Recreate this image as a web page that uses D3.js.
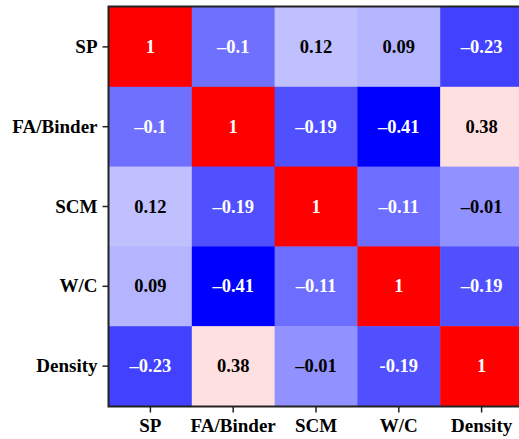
<!DOCTYPE html>
<html>
<head>
<meta charset="utf-8">
<script src="https://cdn.jsdelivr.net/npm/d3@7"></script>
<style>
  html, body { margin: 0; padding: 0; background: #fff; overflow: hidden; }
  svg { display: block; }
</style>
</head>
<body>
<svg id="chart" width="519" height="439"></svg>
<script>
// Variables of the correlation matrix
const variables = ["SP", "FA/Binder", "SCM", "W/C", "Density"];

// Pearson correlation coefficients, one row per variable
const rowSP      = [1, -0.1, 0.12, 0.09, -0.23];
const rowFA      = [-0.1, 1, -0.19, -0.41, 0.38];
const rowSCM     = [0.12, -0.19, 1, -0.11, -0.01];
const rowWC      = [0.09, -0.41, -0.11, 1, -0.19];
const rowDensity = [-0.23, 0.38, -0.01, -0.19, 1];
const matrix = [rowSP, rowFA, rowSCM, rowWC, rowDensity];

// Text shown in each cell
const labelsSP      = ["1", "\u20130.1", "0.12", "0.09", "\u20130.23"];
const labelsFA      = ["\u20130.1", "1", "\u20130.19", "\u20130.41", "0.38"];
const labelsSCM     = ["0.12", "\u20130.19", "1", "\u20130.11", "\u20130.01"];
const labelsWC      = ["0.09", "\u20130.41", "\u20130.11", "1", "\u20130.19"];
const labelsDensity = ["\u20130.23", "0.38", "\u20130.01", "-0.19", "1"];
const cellLabels = [labelsSP, labelsFA, labelsSCM, labelsWC, labelsDensity];

const FONT = "'Liberation Serif', 'Times New Roman', 'DejaVu Serif', serif";

const svg = d3.select("#chart");
const margin = { left: 109, top: 7, right: -4, bottom: 33 };
const W = 519, H = 439;

const x = d3.scaleBand().domain(variables).range([margin.left, W - margin.right]);
const y = d3.scaleBand().domain(variables).range([margin.top, H - margin.bottom]);

// Diverging blue-white-red map, white placed at the centre of the value range
const vmin = -0.41, vmax = 1;
const color = d3.scaleLinear()
  .domain([vmin, (vmin + vmax) / 2, vmax])
  .range(["#0000ff", "#ffffff", "#ff0000"])
  .interpolate(d3.interpolateRgb);

const cells = [];
matrix.forEach((row, i) => row.forEach((v, j) => cells.push({ i, j, v, label: cellLabels[i][j] })));

const g = svg.append("g");
g.selectAll("rect.cell").data(cells).join("rect")
  .attr("class", "cell")
  .attr("x", d => x(variables[d.j]))
  .attr("y", d => y(variables[d.i]))
  .attr("width", x.bandwidth() + 0.5)
  .attr("height", y.bandwidth() + 0.5)
  .attr("fill", d => color(d.v));

// Light cells get dark text, dark cells get white text
g.selectAll("text.val").data(cells).join("text")
  .attr("class", "val")
  .attr("x", d => x(variables[d.j]) + x.bandwidth() / 2)
  .attr("y", d => y(variables[d.i]) + y.bandwidth() / 2)
  .attr("text-anchor", "middle")
  .attr("dominant-baseline", "central")
  .style("font-family", FONT)
  .style("font-weight", "bold")
  .style("font-size", "18.5px")
  .attr("fill", d => (d.v > 0 && d.v < 0.6) || (d.v > -0.05 && d.v <= 0) ? "#000" : "#fff")
  .text(d => d.label);

// Frame around the matrix
svg.append("rect")
  .attr("x", margin.left - 0.5).attr("y", margin.top - 0.5)
  .attr("width", W - margin.right - margin.left + 1)
  .attr("height", H - margin.bottom - margin.top + 1)
  .attr("fill", "none").attr("stroke", "#222").attr("stroke-width", 2);

// Axes
const xAxis = d3.axisBottom(x).tickSize(6).tickPadding(6);
const yAxis = d3.axisLeft(y).tickSize(6).tickPadding(5);

const gx = svg.append("g").attr("transform", `translate(0,${H - margin.bottom + 0.5})`).call(xAxis);
const gy = svg.append("g").attr("transform", `translate(${margin.left - 0.5},0)`).call(yAxis);
[gx, gy].forEach(a => {
  a.select(".domain").remove();
  a.selectAll(".tick line").attr("stroke", "#222").attr("stroke-width", 1.5);
  a.selectAll(".tick text")
    .attr("fill", "#000")
    .style("font-family", FONT)
    .style("font-weight", "bold")
    .style("font-size", "19px");
});
</script>
</body>
</html>
